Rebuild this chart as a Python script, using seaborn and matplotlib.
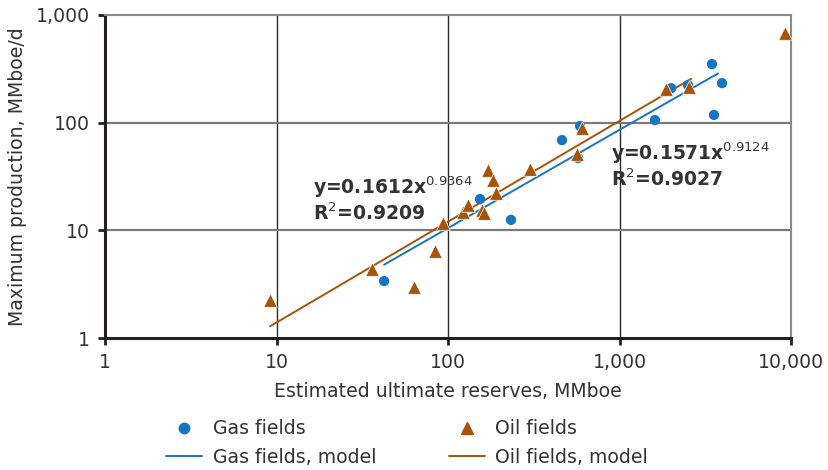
import numpy as np
import pandas as pd
import matplotlib
matplotlib.use("Agg")
import matplotlib.pyplot as plt
from matplotlib.lines import Line2D
from matplotlib.ticker import FixedLocator, FuncFormatter, NullLocator
import seaborn as sns

# ---- data ----
gas_reserves = [42.4, 153.7, 233, 462, 589, 573, 1610, 2000, 2510, 3460, 3960, 3555]
gas_production = [3.38, 19.5, 12.5, 68.9, 93, 46.9, 105.7, 209, 223, 350, 233, 118]

oil_reserves = [9.17, 35.9, 63.6, 84.3, 94, 123, 131, 158, 163, 171, 184, 190.5,
                302, 567, 607, 1875, 2553, 9230]
oil_production = [2.25, 4.34, 2.99, 6.47, 11.6, 14.7, 17.3, 15.5, 14.6, 36.3, 29.3,
                  22.3, 36.8, 50.8, 88.5, 204, 216, 675]

gas_fit_a, gas_fit_b = 0.1571, 0.9124
oil_fit_a, oil_fit_b = 0.1612, 0.9364
gas_fit_range = [42.4, 3750]
oil_fit_range = [9.17, 2620]

x_ticks = [1, 10, 100, 1000, 10000]
y_ticks = [1, 10, 100, 1000]

gas_label = "Gas fields"
oil_label = "Oil fields"
gas_model_label = "Gas fields, model"
oil_model_label = "Oil fields, model"

BLUE = "#1776c2"
ORANGE = "#a6540a"
TXT = "#333333"
FS = 13.6

sns.set_theme(style="white")
plt.rcParams['font.family'] = ['DejaVu Sans']

fig = plt.figure(figsize=(8.29, 4.70), dpi=100)
ax = fig.add_axes([105/829, 1 - 338/470, (791-105)/829, (338-15)/470])

gas_df = pd.DataFrame({"x": gas_reserves, "y": gas_production})
oil_df = pd.DataFrame({"x": oil_reserves, "y": oil_production})

gx = np.array(gas_fit_range, dtype=float)
ox = np.array(oil_fit_range, dtype=float)
gas_fit = pd.DataFrame({"x": gx, "y": gas_fit_a * gx ** gas_fit_b})
oil_fit = pd.DataFrame({"x": ox, "y": oil_fit_a * ox ** oil_fit_b})

ax.set_xscale("log")
ax.set_yscale("log")

sns.lineplot(data=oil_fit, x="x", y="y", ax=ax, color=ORANGE, lw=1.4, zorder=3)
sns.lineplot(data=gas_fit, x="x", y="y", ax=ax, color=BLUE, lw=1.4, zorder=3)
sns.scatterplot(data=gas_df, x="x", y="y", ax=ax, color=BLUE, marker="o", s=55,
                edgecolor="none", zorder=4)
sns.scatterplot(data=oil_df, x="x", y="y", ax=ax, color=ORANGE, marker="^", s=95,
                edgecolor="white", linewidth=0.5, zorder=5)

ax.set_xlim(1, 10000)
ax.set_ylim(1, 1000)
ax.xaxis.set_major_locator(FixedLocator(x_ticks))
ax.yaxis.set_major_locator(FixedLocator(y_ticks))
ax.xaxis.set_minor_locator(NullLocator())
ax.yaxis.set_minor_locator(NullLocator())
fmt = FuncFormatter(lambda v, p: f"{int(round(v)):,}")
ax.xaxis.set_major_formatter(fmt)
ax.yaxis.set_major_formatter(fmt)

for xv in x_ticks[1:-1]:
    ax.axvline(xv, color="#2a2a2a", lw=1.0, zorder=1)
for yv in y_ticks[1:-1]:
    ax.axhline(yv, color="#7a7a7a", lw=1.6, zorder=1)

for s in ["left", "bottom"]:
    ax.spines[s].set_color("#231f20")
    ax.spines[s].set_linewidth(2.2)
for s in ["top", "right"]:
    ax.spines[s].set_color("#8a8a8a")
    ax.spines[s].set_linewidth(1.5)

ax.tick_params(axis="both", which="major", direction="out", length=5, width=2,
               color="#231f20", labelsize=FS, labelcolor=TXT, pad=6, left=True, bottom=True)
ax.set_xlabel("Estimated ultimate reserves, MMboe", fontsize=FS, color=TXT, labelpad=7)
ax.set_ylabel("Maximum production, MMboe/d", fontsize=FS, color=TXT, labelpad=6)

ax.text(0.303, 0.43, r"y=0.1612x$^{0.9364}$" + "\n" + r"R$^{2}$=0.9209",
        transform=ax.transAxes, fontsize=13.5, fontweight="bold", color=TXT,
        va="center", ha="left", linespacing=1.15, zorder=6)
ax.text(0.737, 0.535, r"y=0.1571x$^{0.9124}$" + "\n" + r"R$^{2}$=0.9027",
        transform=ax.transAxes, fontsize=13.5, fontweight="bold", color=TXT,
        va="center", ha="left", linespacing=1.15, zorder=6)

handles = [
    Line2D([], [], marker="o", color=BLUE, ls="none", markersize=7.5),
    Line2D([], [], color=BLUE, lw=1.4),
    Line2D([], [], marker="^", color=ORANGE, ls="none", markersize=9),
    Line2D([], [], color=ORANGE, lw=1.4),
]
labels = [gas_label, gas_model_label, oil_label, oil_model_label]
fig.legend(handles, labels, ncol=2, loc="center", bbox_to_anchor=(0.491, 0.057),
           frameon=False, fontsize=FS, labelcolor=TXT, handlelength=1.9,
           handletextpad=0.55, columnspacing=3.85, labelspacing=0.5)

fig.savefig("out.png", dpi=100)
